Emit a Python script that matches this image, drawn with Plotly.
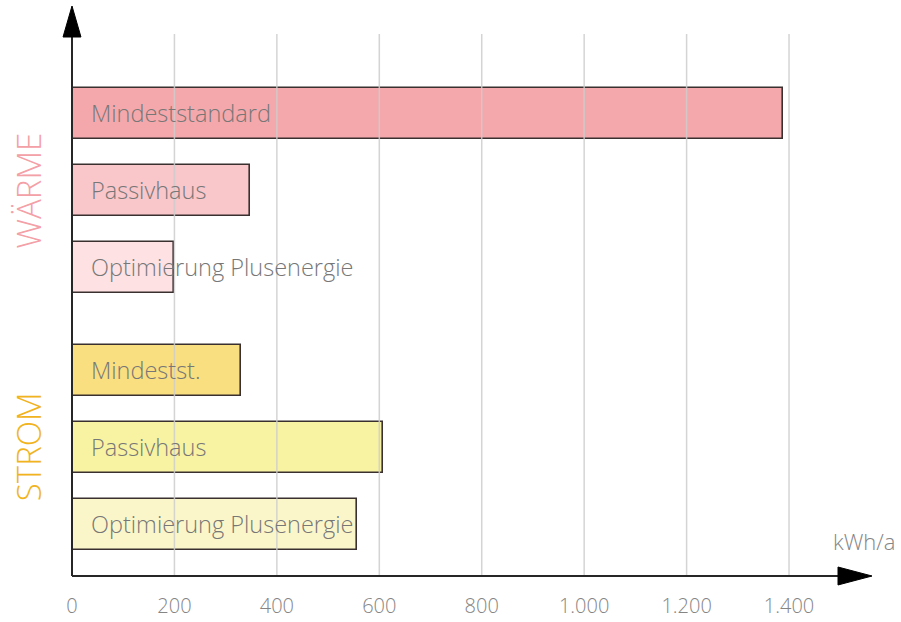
import plotly.graph_objects as go

# Annual energy demand per building standard (kWh/a)
groups = ["WÄRME", "STROM"]
group_colors = ["#f4a0a7", "#f1b41e"]

waerme_labels = ["Mindeststandard", "Passivhaus", "Optimierung Plusenergie"]
waerme_values = [1388, 348, 200]
waerme_fills = ["#f5a8ac", "#f9c6ca", "#fde1e3"]

strom_labels = ["Mindestst.", "Passivhaus", "Optimierung Plusenergie"]
strom_values = [330, 608, 556]
strom_fills = ["#f9df80", "#f8f3a2", "#fbf6ca"]

tick_values = [0, 200, 400, 600, 800, 1000, 1200, 1400]
tick_labels = ["0", "200", "400", "600", "800", "1.000", "1.200", "1.400"]
unit_label = "kWh/a"

# layout helpers
GROUP_GAP = 1 / 3          # extra space between the two groups (in bar slots)
BAR_WIDTH = 0.66
AXIS_COLOR = "#262626"
GRID_COLOR = "rgba(205,205,205,0.85)"
TEXT_GRAY = "#777777"
TICK_FONT = dict(family="Open Sans", size=20, color="#858585", weight=300)

series = [
    (waerme_labels, waerme_values, waerme_fills),
    (strom_labels, strom_values, strom_fills),
]

fig = go.Figure()
annotations = []
slot = 0
for g, (labels, values, fills) in enumerate(series):
    ys = [slot + i + g * GROUP_GAP for i in range(len(values))]
    slot += len(values)
    fig.add_trace(go.Bar(
        x=values, y=ys, orientation="h", width=BAR_WIDTH,
        marker=dict(color=fills, line=dict(color="#3a3030", width=1.6)),
        hoverinfo="x", showlegend=False,
    ))
    for lab, y in zip(labels, ys):
        annotations.append(dict(
            x=0, y=y, xref="x", yref="y", text=lab, showarrow=False,
            xanchor="left", yanchor="middle", xshift=17,
            font=dict(family="Open Sans", size=23.5, color=TEXT_GRAY, weight=300),
        ))
    # rotated group title
    annotations.append(dict(
        x=-0.055, y=sum(ys) / len(ys), xref="paper", yref="y",
        text=groups[g], textangle=-90, showarrow=False,
        xanchor="center", yanchor="middle",
        font=dict(family="Open Sans", size=33, color=group_colors[g], weight=300),
    ))

annotations.append(dict(
    x=1.031, y=0.065, xref="paper", yref="paper", text=unit_label,
    showarrow=False, xanchor="right", yanchor="middle",
    font=dict(TICK_FONT, size=22),
))

shapes = []
# vertical grid lines drawn over the bars
for tv in tick_values[1:]:
    shapes.append(dict(type="line", xref="x", yref="paper", x0=tv, x1=tv,
                       y0=0, y1=1.002, layer="above",
                       line=dict(color=GRID_COLOR, width=1.5)))
# axes with arrow heads
shapes.append(dict(type="line", xref="paper", yref="paper", x0=0, x1=0.96,
                   y0=0, y1=0, layer="above", line=dict(color=AXIS_COLOR, width=2)))
shapes.append(dict(type="line", xref="paper", yref="paper", x0=0, x1=0,
                   y0=0, y1=1.0, layer="above", line=dict(color=AXIS_COLOR, width=2)))
shapes.append(dict(type="path", xref="paper", yref="paper", layer="above",
                   path="M 0.9575 -0.0166 L 1.0 0 L 0.9575 0.0166 Z",
                   fillcolor="black", line=dict(color="black", width=1)))
shapes.append(dict(type="path", xref="paper", yref="paper", layer="above",
                   path="M -0.0112 0.9963 L 0 1.0536 L 0.0112 0.9963 Z",
                   fillcolor="black", line=dict(color="black", width=1)))

fig.update_layout(
    width=901, height=622,
    margin=dict(l=72, r=29, t=35, b=46),
    paper_bgcolor="white", plot_bgcolor="white",
    bargap=0,
    xaxis=dict(range=[0, 1562], tickvals=tick_values, ticktext=tick_labels,
               showgrid=False, zeroline=False, showline=False, ticks="",
               ticklabelstandoff=16, automargin=False, tickfont=TICK_FONT),
    yaxis=dict(range=[6.007, -1.019], showgrid=False, zeroline=False,
               showline=False, showticklabels=False, ticks="", automargin=False),
    annotations=annotations,
    shapes=shapes,
)

fig.write_html("out.html")
